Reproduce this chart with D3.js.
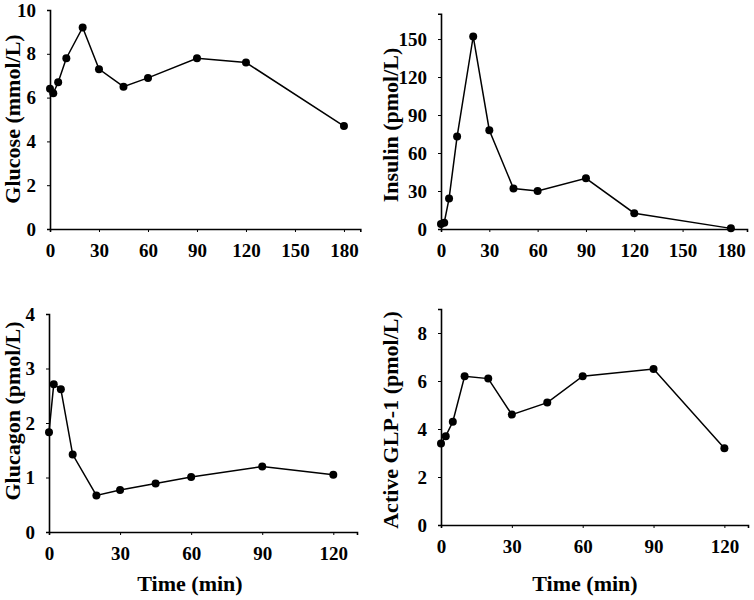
<!DOCTYPE html>
<html>
<head>
<meta charset="utf-8">
<script src="https://cdn.jsdelivr.net/npm/d3@7"></script>
<style>
  body { margin: 0; background: #fff; }
  svg text { font-family: "Liberation Serif", "Times New Roman", serif; font-weight: bold; fill: #000; }
</style>
</head>
<body>
<svg width="754" height="600"></svg>
<script>
// sampling times (min)
const timeLong = [0, 2, 5, 10, 20, 30, 45, 60, 90, 120, 180]
const timeShort = [0, 2, 5, 10, 20, 30, 45, 60, 90, 120]

// series values
const glucose = [6.4, 6.2, 6.7, 7.8, 9.2, 7.3, 6.5, 6.9, 7.8, 7.6, 4.7]
const insulin = [4, 5, 24, 73, 152, 78, 32, 30, 40, 12.5, 0.5]
const glucagon = [1.83, 2.71, 2.62, 1.42, 0.67, 0.77, 0.89, 1.01, 1.2, 1.05]
const glp1 = [3.4, 3.7, 4.3, 6.2, 6.1, 4.6, 5.1, 6.2, 6.5, 3.2]

// tick labels
const xTicksLong = [0, 30, 60, 90, 120, 150, 180]
const xTicksShort = [0, 30, 60, 90, 120]
const glucoseTicks = [0, 2, 4, 6, 8, 10]
const insulinTicks = [0, 30, 60, 90, 120, 150]
const glucagonTicks = [0, 1, 2, 3, 4]
const glp1Ticks = [0, 2, 4, 6, 8]

const svg = d3.select('svg')

function panel(opt) {
    const x = d3.scaleLinear().domain(opt.xDomain).range([opt.x0, opt.x1])
    const y = d3.scaleLinear().domain(opt.yDomain).range([opt.y0, opt.y1])
    const g = svg.append('g')

    g.append('g')
        .attr('transform', `translate(0, ${opt.y0})`)
        .call(d3.axisBottom(x).tickValues(opt.xTicks).tickFormat(d3.format('d'))
            .tickSizeOuter(0).tickSize(3).tickPadding(12))
    g.append('g')
        .attr('transform', `translate(${opt.x0}, 0)`)
        .call(d3.axisLeft(y).tickValues(opt.yTicks).tickFormat(d3.format('d'))
            .tickSizeOuter(0).tickSize(3).tickPadding(11))

    g.selectAll('.domain').attr('stroke', '#000').attr('stroke-width', 1.6)
    g.selectAll('.tick line').attr('stroke', '#000').attr('stroke-width', 1)
    g.selectAll('.tick text').style('font-size', '19px')

    const pts = opt.times.map((t, i) => [t, opt.values[i]])
    g.append('path')
        .datum(pts)
        .attr('fill', 'none')
        .attr('stroke', '#000')
        .attr('stroke-width', 1.5)
        .attr('d', d3.line().x(d => x(d[0])).y(d => y(d[1])))
    g.selectAll('circle')
        .data(pts)
        .join('circle')
        .attr('cx', d => x(d[0]))
        .attr('cy', d => y(d[1]))
        .attr('r', 4)
        .attr('fill', '#000')

    g.append('text')
        .attr('transform', `translate(${opt.titleX}, ${opt.titleY}) rotate(-90)`)
        .attr('text-anchor', 'middle')
        .style('font-size', '22px')
        .text(opt.title)

    if (opt.xTitle) {
        g.append('text')
            .attr('x', opt.xTitleX)
            .attr('y', 591)
            .attr('text-anchor', 'middle')
            .style('font-size', '22px')
            .text(opt.xTitle)
    }
}

panel({
    times: timeLong, values: glucose,
    xDomain: [0, 190], yDomain: [0, 10],
    x0: 50, x1: 360.3, y0: 229, y1: 10,
    xTicks: xTicksLong, yTicks: glucoseTicks,
    title: 'Glucose (mmol/L)', titleX: 20, titleY: 119
})

panel({
    times: timeLong, values: insulin,
    xDomain: [0, 190], yDomain: [0, 170],
    x0: 441, x1: 747, y0: 229, y1: 13.7,
    xTicks: xTicksLong, yTicks: insulinTicks,
    title: 'Insulin (pmol/L)', titleX: 398, titleY: 125
})

panel({
    times: timeShort, values: glucagon,
    xDomain: [0, 130], yDomain: [0, 4],
    x0: 49, x1: 357, y0: 532, y1: 314,
    xTicks: xTicksShort, yTicks: glucagonTicks,
    title: 'Glucagon (pmol/L)', titleX: 20, titleY: 411,
    xTitle: 'Time (min)', xTitleX: 190
})

panel({
    times: timeShort, values: glp1,
    xDomain: [0, 130], yDomain: [0, 9],
    x0: 441, x1: 748, y0: 525, y1: 309,
    xTicks: xTicksShort, yTicks: glp1Ticks,
    title: 'Active GLP-1 (pmol/L)', titleX: 398, titleY: 420,
    xTitle: 'Time (min)', xTitleX: 585
})
</script>
</body>
</html>
